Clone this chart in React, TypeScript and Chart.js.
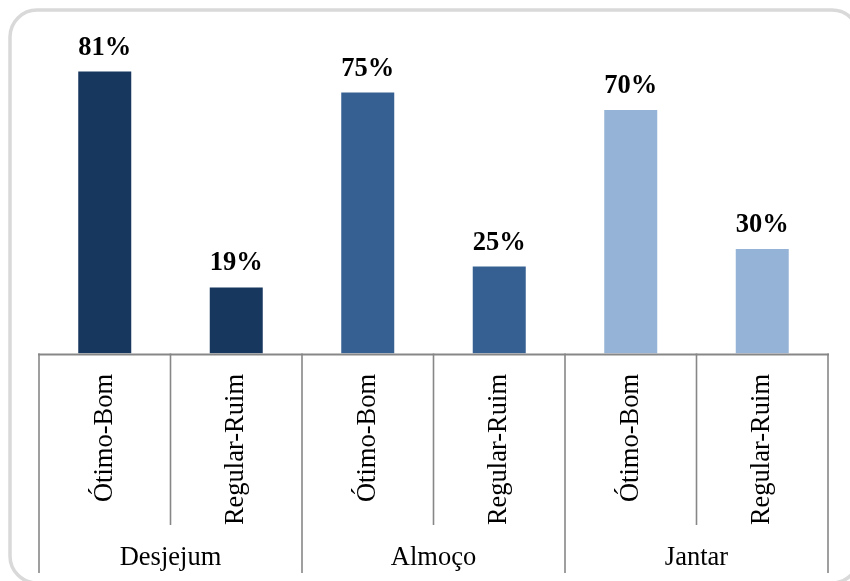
import React, { useEffect, useRef } from "react";
import { Chart, registerables } from "chart.js";

Chart.register(...registerables);

// Meal groups and the rating buckets inside each group
const groups = ["Desjejum", "Almoço", "Jantar"];
const ratings = ["Ótimo-Bom", "Regular-Ruim"];
// Percentages, in order: group by group, rating by rating
const values = [81, 19, 75, 25, 70, 30];
const groupColors = ["#17375e", "#366092", "#95b3d7"];

const labels = groups.flatMap((g) => ratings.map((r) => `${g}|${r}`));
const barColors = groups.flatMap((_, gi) => ratings.map(() => groupColors[gi]));

const SERIF = '"Liberation Serif", "Times New Roman", serif';
const AXIS_GRAY = "#878787";

// Rounded outer frame around the whole figure
const framePlugin = {
  id: "frame",
  beforeDraw(chart: any) {
    const ctx = chart.ctx;
    ctx.save();
    ctx.strokeStyle = "#d9d9d9";
    ctx.lineWidth = 3.5;
    ctx.beginPath();
    ctx.roundRect(10, 10, 849, 573, 27);
    ctx.stroke();
    ctx.restore();
  },
};

// Two-level category axis: rotated rating labels, group names and separators
const groupedAxisPlugin = {
  id: "groupedAxis",
  afterDraw(chart: any) {
    const ctx = chart.ctx;
    const x = chart.scales.x;
    const area = chart.chartArea;
    const step = x.getPixelForValue(1) - x.getPixelForValue(0);
    const n = labels.length;
    const perGroup = ratings.length;
    const axisY = area.bottom + 1;
    const shortEnd = 525;
    const longEnd = 573;

    ctx.save();
    ctx.strokeStyle = AXIS_GRAY;
    ctx.lineWidth = 2;
    ctx.beginPath();
    ctx.moveTo(area.left - 1, axisY);
    ctx.lineTo(area.right + 1, axisY);
    ctx.stroke();

    ctx.lineWidth = 1.6;
    for (let i = 0; i <= n; i++) {
      const px = x.getPixelForValue(i) - step / 2;
      const isGroupEdge = i % perGroup === 0;
      ctx.beginPath();
      ctx.moveTo(px, axisY - 1);
      ctx.lineTo(px, isGroupEdge ? longEnd : shortEnd);
      ctx.stroke();
    }

    ctx.fillStyle = "#000";
    ctx.font = `26.5px ${SERIF}`;
    for (let i = 0; i < n; i++) {
      const px = x.getPixelForValue(i);
      const rating = ratings[i % perGroup];
      ctx.save();
      ctx.translate(px, 374);
      ctx.rotate(-Math.PI / 2);
      ctx.textAlign = "right";
      ctx.textBaseline = "middle";
      ctx.fillText(rating, 0, 0);
      ctx.restore();
    }

    ctx.textAlign = "center";
    ctx.textBaseline = "alphabetic";
    groups.forEach((g, gi) => {
      const first = x.getPixelForValue(gi * perGroup);
      const last = x.getPixelForValue(gi * perGroup + perGroup - 1);
      ctx.fillText(g, (first + last) / 2, 565);
    });
    ctx.restore();
  },
};

// Percentage labels above each bar
const valueLabelPlugin = {
  id: "valueLabels",
  afterDatasetsDraw(chart: any) {
    const ctx = chart.ctx;
    const meta = chart.getDatasetMeta(0);
    ctx.save();
    ctx.fillStyle = "#000";
    ctx.font = `bold 26.5px ${SERIF}`;
    ctx.textAlign = "center";
    ctx.textBaseline = "alphabetic";
    meta.data.forEach((bar: any, i: number) => {
      ctx.fillText(`${values[i]}%`, bar.x, bar.y - 17);
    });
    ctx.restore();
  },
};

export default function App() {
  const canvasRef = useRef<HTMLCanvasElement | null>(null);

  useEffect(() => {
    const canvas = canvasRef.current;
    if (!canvas) return;
    const chart = new Chart(canvas, {
      type: "bar",
      data: {
        labels,
        datasets: [
          {
            data: values,
            backgroundColor: barColors,
            borderWidth: 0,
            barPercentage: 0.403,
            categoryPercentage: 1,
          },
        ],
      },
      options: {
        responsive: false,
        maintainAspectRatio: false,
        animation: false,
        devicePixelRatio: 1,
        layout: {
          padding: { left: 39, right: 22, top: 5.5, bottom: 227.5 },
        },
        plugins: {
          legend: { display: false },
          tooltip: { enabled: false },
          title: { display: false },
        },
        scales: {
          x: { display: false, offset: true },
          y: { display: false, min: 0, max: 100 },
        },
      },
      plugins: [framePlugin, groupedAxisPlugin, valueLabelPlugin],
    });
    return () => chart.destroy();
  }, []);

  return (
    <div
      style={{
        position: "fixed",
        left: 0,
        top: 0,
        width: 850,
        height: 581,
        overflow: "hidden",
        background: "#fff",
      }}
    >
      <canvas ref={canvasRef} width={850} height={581} style={{ display: "block" }} />
    </div>
  );
}
